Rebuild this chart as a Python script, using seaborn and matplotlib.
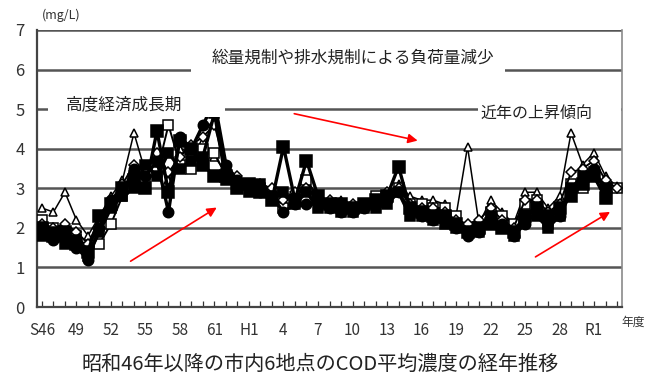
import numpy as np
import pandas as pd
import matplotlib
matplotlib.use("Agg")
import matplotlib.pyplot as plt
from matplotlib.patches import Rectangle
import seaborn as sns

# Fiscal years S46 (1971) .. R3 (2021)
years = list(range(1971, 2022))

# Annual mean COD (mg/L) at the six monitoring points
site_a = [2.5, 2.4, 2.9, 2.2, 1.8, 2.3, 2.8, 3.2, 4.4, 3.4,
          3.6, 3.2, 4.0, 3.9, 4.2, 3.8, 3.4, 3.2, 3.1, 3.0,
          3.0, 2.7, 2.8, 3.0, 2.8, 2.7, 2.7, 2.6, 2.6, 2.7,
          2.9, 3.1, 2.8, 2.7, 2.7, 2.6, 2.3, 4.05, 2.1, 2.7,
          2.4, 2.1, 2.9, 2.9, 2.5, 2.8, 4.4, 3.6, 3.9, 3.3,
          3.05]
site_b = [2.2, 2.0, 1.9, 1.8, 1.5, 1.6, 2.1, 2.8, 3.3, 3.2,
          3.4, 4.6, 3.6, 3.5, 4.0, 3.9, 3.3, 3.1, 3.1, 3.0,
          2.9, 2.5, 2.7, 3.2, 2.8, 2.6, 2.5, 2.5, 2.6, 2.8,
          2.8, 3.0, 2.6, 2.6, 2.5, 2.5, 2.3, 2.0, 2.0, 2.4,
          2.3, 2.1, 2.6, 2.7, 2.1, 2.4, 3.1, 3.0, 3.3, 3.0,
          3.0]
site_c = [2.0, 1.8, 1.9, 1.6, 1.4, 2.3, 2.6, 3.0, 3.2, 3.0,
          4.45, 2.9, 4.2, 4.0, 3.6, 3.3, 3.3, 3.0, 3.1, 2.9,
          2.7, 4.05, 2.7, 3.7, 2.8, 2.6, 2.6, 2.5, 2.6, 2.7,
          2.8, 3.55, 2.5, 2.4, 2.3, 2.3, 2.1, 1.9, 2.0, 2.1,
          2.0, 1.9, 2.3, 2.5, 2.3, 2.5, 2.8, 3.1, 3.3, 2.75,
          np.nan]
site_d = [1.9, 1.7, 1.7, 1.5, 1.2, 2.0, 2.7, 2.9, 3.5, 3.3,
          3.7, 2.4, 4.3, 4.0, 4.6, 5.2, 3.6, 3.2, 3.0, 2.9,
          2.8, 2.4, 2.6, 2.6, 2.6, 2.5, 2.4, 2.4, 2.5, 2.6,
          2.7, 2.9, 2.4, 2.3, 2.2, 2.2, 2.0, 1.8, 1.9, 2.2,
          2.1, 1.8, 2.1, 2.4, 2.2, 2.3, 2.9, 3.2, 3.5, 2.9,
          np.nan]
site_e = [2.1, 2.0, 2.1, 1.9, 1.6, 2.2, 2.7, 3.1, 3.6, 3.5,
          3.9, 3.4, 3.8, 4.1, 4.3, 4.6, 3.5, 3.3, 3.0, 3.1,
          3.0, 2.7, 2.9, 3.0, 2.7, 2.7, 2.6, 2.6, 2.6, 2.7,
          2.9, 3.0, 2.6, 2.5, 2.5, 2.4, 2.2, 2.1, 2.2, 2.5,
          2.2, 2.0, 2.7, 2.7, 2.4, 2.6, 3.4, 3.5, 3.7, 3.2,
          3.0]
site_f = [1.8, 1.9, 1.6, 1.7, 1.3, 1.9, 2.5, 2.8, 3.0, 3.6,
          3.3, 3.9, 3.5, 3.7, 3.8, 4.9, 3.2, 3.1, 2.9, 3.1,
          2.8, 2.9, 2.6, 2.9, 2.5, 2.5, 2.4, 2.4, 2.5, 2.5,
          2.6, 2.9, 2.3, 2.3, 2.2, 2.1, 2.0, 1.9, 1.9, 2.3,
          2.0, 1.8, 2.2, 2.3, 2.0, 2.3, 3.0, 3.3, 3.4, 3.0,
          np.nan]

tick_years = list(range(1971, 2020, 3))
tick_labels = ["S46", "49", "52", "55", "58", "61", "H1", "4", "7",
               "10", "13", "16", "19", "22", "25", "28", "R1"]
y_ticks = [0, 1, 2, 3, 4, 5, 6, 7]

series = {"A": site_a, "B": site_b, "C": site_c,
          "D": site_d, "E": site_e, "F": site_f}
df = pd.concat(
    [pd.DataFrame({"year": years, "cod": vals, "site": name})
     for name, vals in series.items()],
    ignore_index=True,
)

# marker, face colour, size, line width
styles = {
    "A": ("^", "white", 6.0, 1.1),
    "B": ("s", "white", 7.5, 1.4),
    "C": ("s", "black", 8.5, 2.4),
    "D": ("o", "black", 7.5, 2.4),
    "E": ("D", "white", 5.5, 1.4),
    "F": ("s", "black", 7.5, 2.4),
}

sns.set_theme(style="white")
plt.rcParams["font.family"] = ["Noto Sans CJK JP", "DejaVu Sans"]

fig = plt.figure(figsize=(6.51, 3.82), dpi=100)
ax = fig.add_axes([37 / 651, 1 - 307 / 382, 585 / 651, 277 / 382])

for name in ["A", "B", "E", "F", "D", "C"]:
    mk, fc, ms, lw = styles[name]
    sns.lineplot(data=df[df["site"] == name], x="year", y="cod",
                 color="black", marker=mk, markerfacecolor=fc,
                 markeredgecolor="black", markeredgewidth=1.1,
                 markersize=ms, linewidth=lw, ax=ax, zorder=3,
                 legend=False)

ax.set_xlim(1970.57, 2021.43)
ax.set_ylim(0, 7)

# horizontal reference lines
for yv in y_ticks[1:]:
    ax.axhline(yv, color="#555555", linewidth=1.8, zorder=1)

ax.set_yticks(y_ticks)
ax.set_yticklabels([str(v) for v in y_ticks], fontsize=12, color="#333333")
ax.tick_params(axis="y", length=0, pad=9)

ax.set_xticks(tick_years)
ax.set_xticklabels(tick_labels, fontsize=11, color="#333333")
ax.set_xticks(years, minor=True)
ax.tick_params(axis="x", which="both", direction="in", length=4,
               width=0.9, color="#333333", pad=11, top=False, bottom=True)
ax.set_xlabel("")
ax.set_ylabel("")

for side in ["left", "bottom"]:
    ax.spines[side].set_color("#444444")
    ax.spines[side].set_linewidth(1.6)
ax.spines["right"].set_color("#8a8a8a")
ax.spines["right"].set_linewidth(1.2)
ax.spines["top"].set_visible(False)

# white label panels laid over the reference lines
def panel(x0, x1, y0, y1):
    ax.add_patch(Rectangle((x0, y0), x1 - x0, y1 - y0, transform=ax.transData,
                           facecolor="white", edgecolor="none", zorder=5))

panel(1971.5, 1986.9, 4.8, 5.5)
panel(1984.0, 2011.3, 5.85, 6.5)
panel(2008.9, 2021.3, 4.85, 5.45)

ax.text(1978.1, 5.12, "高度経済成長期", fontsize=12, ha="center", va="center",
        color="#222222", zorder=6)
ax.text(1998.0, 6.29, "総量規制や排水規制による負荷量減少", fontsize=12,
        ha="center", va="center", color="#222222", zorder=6)
ax.text(2014.0, 4.9, "近年の上昇傾向", fontsize=11.5, ha="center",
        va="center", color="#222222", zorder=6)

# trend arrows
arrow = dict(arrowstyle="-|>", color="red", lw=1.2, mutation_scale=14)
ax.annotate("", xy=(1986.4, 2.55), xytext=(1978.5, 1.12), arrowprops=arrow,
            zorder=7)
ax.annotate("", xy=(2003.9, 4.19), xytext=(1992.7, 4.9), arrowprops=arrow,
            zorder=7)
ax.annotate("", xy=(2020.6, 2.44), xytext=(2013.7, 1.23), arrowprops=arrow,
            zorder=7)

fig.text(61 / 651, 1 - 15 / 382, "(mg/L)", fontsize=9, ha="center",
         va="center", color="#333333")
fig.text(633 / 651, 1 - 322 / 382, "年度", fontsize=8.5, ha="center",
         va="center", color="#333333")
fig.text(320 / 651, 1 - 364 / 382, "昭和46年以降の市内6地点のCOD平均濃度の経年推移",
         fontsize=14.5, ha="center", va="center", color="#222222")

fig.savefig("out.png", dpi=100, facecolor="white")
